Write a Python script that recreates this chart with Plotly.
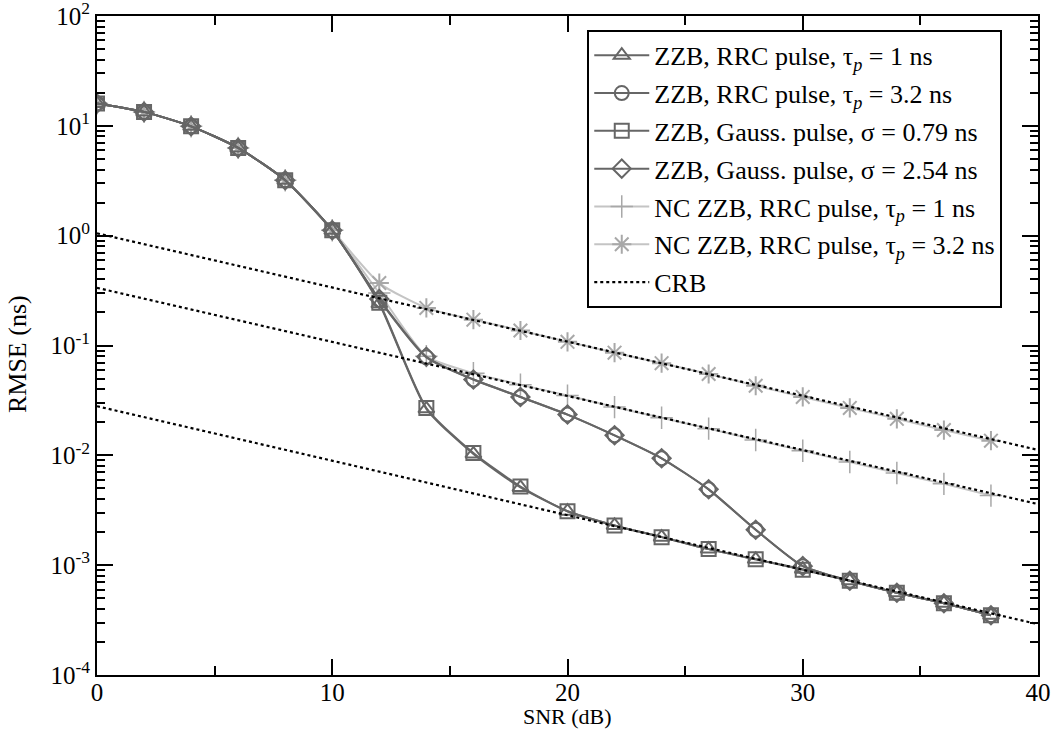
import plotly.graph_objects as go

snr = [0, 2, 4, 6, 8, 10, 12, 14, 16, 18, 20, 22, 24, 26, 28, 30, 32, 34, 36, 38]

zzb_rrc_1 = [16.0, 13.4, 9.9, 6.3, 3.2, 1.12, 0.24, 0.0265, 0.0103, 0.0051, 0.0031, 0.0023,
             0.0018, 0.0014, 0.00113, 0.00092, 0.00072, 0.00056, 0.00045, 0.00035]
zzb_rrc_32 = [16.0, 13.4, 9.9, 6.3, 3.2, 1.12, 0.26, 0.078, 0.049, 0.034, 0.0235, 0.0152,
              0.0094, 0.0049, 0.0021, 0.00098, 0.00072, 0.00056, 0.00045, 0.00035]
zzb_gauss_079 = [16.0, 13.4, 9.9, 6.3, 3.2, 1.12, 0.245, 0.027, 0.0105, 0.0052, 0.0031, 0.0023,
                 0.0018, 0.0014, 0.00113, 0.00091, 0.00072, 0.00056, 0.00045, 0.00035]
zzb_gauss_254 = [16.0, 13.4, 9.9, 6.3, 3.2, 1.12, 0.265, 0.079, 0.049, 0.034, 0.0235, 0.0152,
                 0.0094, 0.0049, 0.0021, 0.00098, 0.00072, 0.00056, 0.00045, 0.00035]
nc_zzb_rrc_1 = [16.0, 13.4, 9.9, 6.3, 3.2, 1.12, 0.30, 0.08, 0.056, 0.044, 0.035, 0.0275,
                0.022, 0.0175, 0.0138, 0.011, 0.0087, 0.0069, 0.0055, 0.0043]
nc_zzb_rrc_32 = [16.0, 13.4, 9.9, 6.3, 3.2, 1.12, 0.37, 0.22, 0.172, 0.137, 0.108, 0.086,
                 0.069, 0.055, 0.043, 0.034, 0.027, 0.0215, 0.017, 0.0136]

crb_snr = [0, 40]
crb_top = [1.05, 0.0112]
crb_mid = [0.335, 0.0036]
crb_low = [0.028, 0.00029]

y_tickvals = [1e-4, 1e-3, 1e-2, 1e-1, 1, 10, 100]
y_ticktext = ["10<sup>-4</sup>", "10<sup>-3</sup>", "10<sup>-2</sup>", "10<sup>-1</sup>",
              "10<sup>0</sup>", "10<sup>1</sup>", "10<sup>2</sup>"]
x_tickvals = [0, 10, 20, 30, 40]

FONT = "Liberation Serif"
DARK = "#666666"
LIGHT = "#c4c4c4"
LIGHT_M = "#a8a8a8"

fig = go.Figure()

# NC ZZB (light) drawn first
fig.add_trace(go.Scatter(
    x=snr, y=nc_zzb_rrc_1, mode="lines+markers", legendrank=5, legendgroup="g5",
    name="NC ZZB, RRC pulse, τ<sub><i>p</i></sub> = 1 ns",
    line=dict(color=LIGHT, width=2, shape="spline", smoothing=0.6),
    marker=dict(symbol="cross-thin", size=16, line=dict(color=LIGHT_M, width=1.5))))
fig.add_trace(go.Scatter(
    x=snr, y=nc_zzb_rrc_32, mode="lines+markers", legendrank=6, legendgroup="g6",
    name="NC ZZB, RRC pulse, τ<sub><i>p</i></sub> = 3.2 ns",
    line=dict(color=LIGHT, width=2, shape="spline", smoothing=0.6),
    marker=dict(symbol="asterisk", size=16, line=dict(color=LIGHT_M, width=2))))

# ZZB (dark)
zzb_specs = [
    (zzb_rrc_1, "ZZB, RRC pulse, τ<sub><i>p</i></sub> = 1 ns", "triangle-up-open", 1),
    (zzb_rrc_32, "ZZB, RRC pulse, τ<sub><i>p</i></sub> = 3.2 ns", "circle-open", 2),
    (zzb_gauss_079, "ZZB, Gauss. pulse, σ = 0.79 ns", "square-open", 3),
    (zzb_gauss_254, "ZZB, Gauss. pulse, σ = 2.54 ns", "diamond-open", 4),
]
for vals, name, sym, rank in zzb_specs:
    fig.add_trace(go.Scatter(
        x=snr, y=vals, mode="lines+markers", name=name, legendrank=rank,
        legendgroup="g%d" % rank,
        line=dict(color=DARK, width=2, shape="spline", smoothing=0.6),
        marker=dict(symbol=sym, size=14, color=DARK, line=dict(color=DARK, width=2))))

# CRB dotted lines
for i, vals in enumerate([crb_top, crb_mid, crb_low]):
    fig.add_trace(go.Scatter(
        x=crb_snr, y=vals, mode="lines", name="CRB", legendgroup="crb",
        showlegend=(i == 0), legendrank=7,
        line=dict(color="black", width=2.2, dash="dot")))

axis_common = dict(
    showline=True, linecolor="black", linewidth=2, mirror="allticks",
    ticks="inside", tickcolor="black", tickwidth=1.5, showgrid=False, zeroline=False,
    tickfont=dict(family=FONT, size=25, color="black"),
    ticklabeloverflow="allow", automargin=False,
)

fig.update_xaxes(
    range=[0, 40], tickvals=x_tickvals, ticklen=16, ticklabelstandoff=-6,
    minor=dict(ticks="inside", ticklen=9, tickvals=[5, 15, 25, 35], tickcolor="black", tickwidth=1.5),
    **axis_common)
fig.update_yaxes(
    type="log", range=[-4, 2.0001], tickvals=y_tickvals, ticktext=y_ticktext, ticklen=16,
    minor=dict(ticks="inside", ticklen=8, dtick="D1", tickcolor="black", tickwidth=1.5),
    **axis_common)

fig.add_annotation(text="SNR (dB)", xref="paper", yref="paper", x=0.5, y=-0.063,
                   xanchor="center", yanchor="middle", showarrow=False,
                   font=dict(family=FONT, size=22, color="black"))
fig.add_annotation(text="RMSE (ns)", xref="paper", yref="paper", x=-0.085, y=0.487,
                   xanchor="center", yanchor="middle", showarrow=False, textangle=-90,
                   font=dict(family=FONT, size=26, color="black"))

fig.update_layout(
    width=1057, height=729,
    margin=dict(l=97, r=19, t=16, b=54, autoexpand=False),
    paper_bgcolor="white", plot_bgcolor="white",
    font=dict(family=FONT, color="black"),
    legend=dict(
        x=0.521, y=0.979, xanchor="left", yanchor="top",
        bgcolor="white", bordercolor="black", borderwidth=2,
        font=dict(family=FONT, size=26, color="black"),
        itemwidth=55, tracegroupgap=1,
    ),
)

fig.write_html("out.html")
